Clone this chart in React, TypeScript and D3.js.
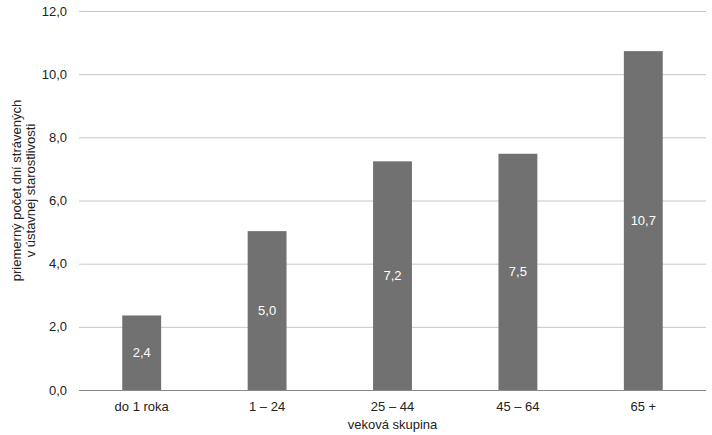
import React, {useEffect, useRef} from 'react';
import * as d3 from 'd3';

// age groups and average number of days in institutional care
const categories = ['do 1 roka', '1 – 24', '25 – 44', '45 – 64', '65 +'];
const values = [2.36, 5.03, 7.24, 7.48, 10.73];
const yTicks = [0, 2, 4, 6, 8, 10, 12];
const yTitle = ['priemerný počet dní strávených', 'v ústavnej starostlivosti'];
const xTitle = 'veková skupina';

const width = 712;
const height = 435;
const margin = {top: 11, right: 6, bottom: 45, left: 79};

const fmt = (v: number) => v.toFixed(1).replace('.', ',');

const App = () => {
    const anchor = useRef<SVGSVGElement>(null);

    useEffect(() => {
        const svg = d3.select(anchor.current);
        svg.selectAll('*').remove();

        const x = d3.scaleBand()
            .domain(categories)
            .range([margin.left, width - margin.right])
            .paddingInner(0.69)
            .paddingOuter(0.345);

        const y = d3.scaleLinear()
            .domain([0, 12])
            .range([height - margin.bottom, margin.top]);

        const font = '"Liberation Sans", Arial, sans-serif';
        const fs = 13;

        // gridlines
        svg.append('g').selectAll('line')
            .data(yTicks.filter(t => t > 0))
            .enter().append('line')
            .attr('x1', margin.left)
            .attr('x2', width - margin.right)
            .attr('y1', d => y(d) + 0.5)
            .attr('y2', d => y(d) + 0.5)
            .attr('stroke', '#c6c6c6')
            .attr('stroke-width', 1);

        // y tick labels
        svg.append('g').selectAll('text')
            .data(yTicks)
            .enter().append('text')
            .attr('x', 67)
            .attr('y', d => y(d) + 4.5)
            .attr('text-anchor', 'end')
            .attr('font-family', font)
            .attr('font-size', fs)
            .attr('fill', '#222')
            .text(d => fmt(d));

        // bars
        svg.append('g').selectAll('rect')
            .data(values)
            .enter().append('rect')
            .attr('x', (d, i) => x(categories[i]) as number)
            .attr('y', d => y(d))
            .attr('width', x.bandwidth())
            .attr('height', d => y(0) - y(d))
            .attr('fill', '#717171');

        // value labels in the middle of the bars
        svg.append('g').selectAll('text')
            .data(values)
            .enter().append('text')
            .attr('x', (d, i) => (x(categories[i]) as number) + x.bandwidth() / 2)
            .attr('y', d => (y(d) + y(0)) / 2 + 4.5)
            .attr('text-anchor', 'middle')
            .attr('font-family', font)
            .attr('font-size', fs)
            .attr('fill', '#ffffff')
            .text(d => fmt(d));

        // baseline
        svg.append('line')
            .attr('x1', margin.left)
            .attr('x2', width - margin.right)
            .attr('y1', y(0) + 0.5)
            .attr('y2', y(0) + 0.5)
            .attr('stroke', '#8a8a8a')
            .attr('stroke-width', 1);

        // category labels
        svg.append('g').selectAll('text')
            .data(categories)
            .enter().append('text')
            .attr('x', d => (x(d) as number) + x.bandwidth() / 2)
            .attr('y', y(0) + 21)
            .attr('text-anchor', 'middle')
            .attr('font-family', font)
            .attr('font-size', fs)
            .attr('fill', '#222')
            .text(d => d);

        // axis titles
        svg.append('text')
            .attr('x', (margin.left + width - margin.right) / 2)
            .attr('y', height - 6)
            .attr('text-anchor', 'middle')
            .attr('font-family', font)
            .attr('font-size', fs)
            .attr('fill', '#222')
            .text(xTitle);

        svg.append('text')
            .attr('transform', `translate(21, ${(margin.top + height - margin.bottom) / 2 - 10}) rotate(-90)`)
            .attr('text-anchor', 'middle')
            .attr('font-family', font)
            .attr('font-size', fs)
            .attr('fill', '#222')
            .selectAll('tspan')
            .data(yTitle)
            .enter().append('tspan')
            .attr('x', 0)
            .attr('dy', (d, i) => i === 0 ? 0 : 13.5)
            .text(d => d);
    }, []);

    return <svg ref={anchor} width={width} height={height}
                style={{position: 'absolute', left: 0, top: 0, background: '#fff'}}/>;
};

export default App;
